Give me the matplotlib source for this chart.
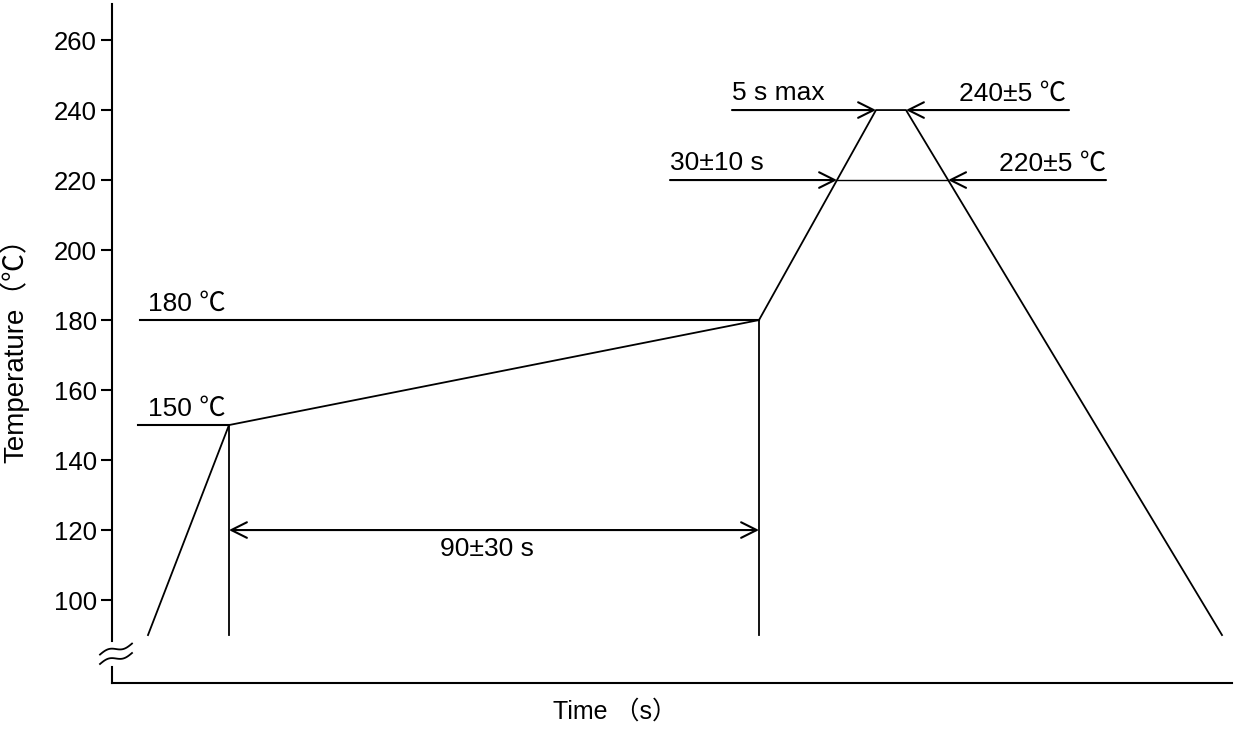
import matplotlib.pyplot as plt
import numpy as np

plt.rcParams['font.family'] = ['Liberation Sans', 'Noto Sans CJK JP', 'DejaVu Sans']

# reflow profile (time in arbitrary units)
time = [36, 117, 647, 764, 794, 1110]
temp = [90, 150, 180, 240, 240, 90]

yticks = [100, 120, 140, 160, 180, 200, 220, 240, 260]

# reference levels
preheat_lo = 150
preheat_hi = 180
reflow_t = 220
peak_t = 240

FS = 19


def arrow(ax, x0, x1, y, style='->'):
    ax.annotate('', xy=(x1, y), xytext=(x0, y),
                arrowprops=dict(arrowstyle=style, lw=1.5, color='black',
                                mutation_scale=28, shrinkA=0, shrinkB=0))


if __name__ == "__main__":
    fig = plt.figure(figsize=(12.34, 7.29), dpi=100)
    ax = fig.add_axes([112 / 1234, 1 - 683 / 729, 1120 / 1234, 679 / 729])
    ax.set_xlim(0, 1120)
    ax.set_ylim(76.3, 270.3)

    ax.plot(time, temp, color='black', lw=1.3)

    # crossing points on the ramp-up / cool-down slopes
    up_220 = np.interp(reflow_t, temp[2:4], time[2:4])
    dn_220 = np.interp(reflow_t, temp[4:][::-1], time[4:][::-1])

    # 150 / 180 levels
    ax.plot([26, time[1]], [preheat_lo, preheat_lo], color='black', lw=1.5)
    ax.plot([28, time[2]], [preheat_hi, preheat_hi], color='black', lw=1.5)
    ax.plot([time[1], time[1]], [90, preheat_lo], color='black', lw=1.3)
    ax.plot([time[2], time[2]], [90, preheat_hi], color='black', lw=1.3)
    ax.text(36, preheat_hi + 1.3, '180 ℃', fontsize=FS, va='bottom')
    ax.text(36, preheat_lo + 1.3, '150 ℃', fontsize=FS, va='bottom')

    # preheat time
    arrow(ax, time[1], time[2], 120, '<->')
    ax.text(375, 114.5, '90±30 s', fontsize=FS, ha='center', va='center')

    # 220 level
    arrow(ax, 558, up_220, reflow_t)
    arrow(ax, 994, dn_220, reflow_t)
    ax.plot([up_220, dn_220], [reflow_t, reflow_t], color='black', lw=1.0)
    ax.text(558, reflow_t + 1.3, '30±10 s', fontsize=FS, va='bottom')
    ax.text(994, reflow_t + 1.3, '220±5 ℃', fontsize=FS, va='bottom', ha='right')

    # peak
    arrow(ax, 620, time[3], peak_t)
    arrow(ax, 957, time[4], peak_t)
    ax.text(620, peak_t + 1.3, '5 s max', fontsize=FS, va='bottom')
    ax.text(954, peak_t + 1.3, '240±5 ℃', fontsize=FS, va='bottom', ha='right')

    # axes styling
    for s in ['top', 'right', 'left']:
        ax.spines[s].set_visible(False)
    ax.spines['bottom'].set_linewidth(1.5)
    ax.set_xticks([])
    ax.set_yticks(yticks)
    ax.tick_params(axis='y', labelsize=18.5, length=8, width=1.5, pad=3)

    # left spine with a break
    ax.plot([0, 0], [88.3, 270.3], color='black', lw=1.5, clip_on=False)
    ax.plot([0, 0], [76.3, 81.0], color='black', lw=1.5, clip_on=False)
    t = np.linspace(0, 1, 40)
    bx = -12 + 32 * t
    for y0 in [86.0, 83.3]:
        by = y0 + (11 * t - 5.5 + 2.5 * np.sin(2 * np.pi * t)) / 3.5
        ax.plot(bx, by, color='black', lw=1.3, clip_on=False)

    ax.set_ylabel('Temperature（℃）', fontsize=FS + 1)
    ax.yaxis.set_label_coords(-0.074, 0.5)
    ax.set_xlabel('Time （s）', fontsize=FS - 1)
    ax.xaxis.set_label_coords((615 - 112) / 1120, -0.025)

    plt.savefig('out.png', dpi=100)
